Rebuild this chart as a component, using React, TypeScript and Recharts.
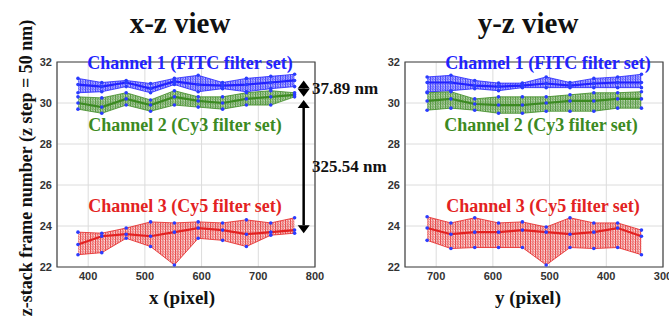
import React from "react";
import { ComposedChart, Area, Line, XAxis, YAxis, CartesianGrid, ReferenceArea, ReferenceLine } from "recharts";

// pixel positions of the sampled columns
const XZ_POS = [382, 424, 467, 510, 552, 594, 637, 679, 722, 764];
const YZ_POS = [716, 674, 632, 590, 548, 506, 464, 422, 380, 338];

// x-z view
const XZ_C1_TOP = [31.2, 31.0, 31.1, 30.95, 31.2, 31.35, 31.0, 31.2, 31.3, 31.4];
const XZ_C1_MID = [30.9, 30.8, 31.0, 30.7, 31.05, 30.9, 30.85, 30.9, 31.0, 31.1];
const XZ_C1_BOT = [30.5, 30.55, 30.8, 30.5, 30.9, 30.55, 30.7, 30.55, 30.7, 30.8];
const XZ_C2_TOP = [30.3, 30.25, 30.5, 30.15, 30.6, 30.3, 30.3, 30.5, 30.6, 30.5];
const XZ_C2_MID = [30.0, 29.8, 30.2, 29.9, 30.3, 30.1, 30.0, 30.2, 30.3, 30.4];
const XZ_C2_BOT = [29.7, 29.5, 29.9, 29.6, 29.9, 29.8, 29.7, 29.9, 29.9, 30.3];
const XZ_C3_TOP = [23.7, 23.65, 23.9, 24.2, 24.15, 24.2, 24.15, 24.3, 24.15, 24.4];
const XZ_C3_MID = [23.1, 23.5, 23.6, 23.5, 23.7, 23.9, 23.8, 23.6, 23.7, 23.8];
const XZ_C3_BOT = [22.6, 22.7, 23.4, 23.0, 22.1, 23.4, 23.3, 23.0, 23.55, 23.65];

// y-z view
const YZ_C1_TOP = [31.27, 31.35, 31.1, 30.97, 30.97, 31.27, 31.0, 31.2, 31.27, 31.4];
const YZ_C1_MID = [31.0, 31.0, 30.85, 30.8, 30.85, 30.95, 30.85, 30.95, 31.0, 31.0];
const YZ_C1_BOT = [30.54, 30.6, 30.7, 30.6, 30.75, 30.75, 30.75, 30.75, 30.75, 30.75];
const YZ_C2_TOP = [30.5, 30.55, 30.2, 30.3, 30.3, 30.3, 30.4, 30.5, 30.5, 30.55];
const YZ_C2_MID = [30.1, 30.2, 29.95, 29.9, 29.9, 30.0, 30.1, 30.1, 30.2, 30.2];
const YZ_C2_BOT = [29.65, 29.75, 29.65, 29.5, 29.5, 29.6, 29.6, 29.6, 29.75, 29.75];
const YZ_C3_TOP = [24.45, 24.15, 24.4, 24.15, 24.2, 23.95, 24.4, 24.15, 24.15, 23.8];
const YZ_C3_MID = [23.9, 23.6, 23.7, 23.7, 23.8, 23.7, 23.6, 23.7, 23.9, 23.5];
const YZ_C3_BOT = [23.3, 22.9, 22.95, 22.95, 22.95, 22.1, 22.95, 22.9, 22.95, 22.6];

const Y_TICKS = [22, 24, 26, 28, 30, 32];
const XZ_TICKS = [400, 500, 600, 700, 800];
const YZ_TICKS = [300, 400, 500, 600, 700];

// measured separations (frames) for the annotation arrows
const GAP_12 = [31.1, 30.3];
const GAP_23 = [30.15, 23.65];

const BLUE = "#2222ff";
const GREEN = "#3c8a22";
const RED = "#e32222";
const DOT = "#2a3cff";
const SERIF = "'Liberation Serif', 'Times New Roman', serif";

function buildRows(pos: number[], ch: number[][]) {
  return pos.map((p, i) => ({
    p,
    c1: [ch[2][i], ch[0][i]],
    c1t: ch[0][i], c1m: ch[1][i], c1b: ch[2][i],
    c2: [ch[5][i], ch[3][i]],
    c2t: ch[3][i], c2m: ch[4][i], c2b: ch[5][i],
    c3: [ch[8][i], ch[6][i]],
    c3t: ch[6][i], c3m: ch[7][i], c3b: ch[8][i],
  }));
}

const xzRows = buildRows(XZ_POS, [XZ_C1_TOP, XZ_C1_MID, XZ_C1_BOT, XZ_C2_TOP, XZ_C2_MID, XZ_C2_BOT, XZ_C3_TOP, XZ_C3_MID, XZ_C3_BOT]);
const yzRows = buildRows(YZ_POS, [YZ_C1_TOP, YZ_C1_MID, YZ_C1_BOT, YZ_C2_TOP, YZ_C2_MID, YZ_C2_BOT, YZ_C3_TOP, YZ_C3_MID, YZ_C3_BOT]);

function Mesh({ id, color, base }: { id: string; color: string; base: number }) {
  return (
    <pattern id={id} width="2.5" height="2.5" patternUnits="userSpaceOnUse">
      <rect width="2.5" height="2.5" fill={color} fillOpacity={base} />
      <path d="M0.5 0 L0.5 2.5" stroke={color} strokeWidth={0.7} />
      <path d="M0 0 L2.5 2.5" stroke={color} strokeWidth={0.45} />
    </pattern>
  );
}

function DoubleArrow(props: any) {
  const { x1, y1, x2, y2 } = props;
  if (x1 == null || y1 == null) return null;
  const x = (x1 + x2) / 2;
  const top = Math.min(y1, y2);
  const bot = Math.max(y1, y2);
  const h = 8;
  const w = 6;
  return (
    <g>
      <line x1={x} y1={top + h} x2={x} y2={bot - h} stroke="#000" strokeWidth={2.5} />
      <polygon points={`${x},${top} ${x - w},${top + h} ${x + w},${top + h}`} fill="#000" />
      <polygon points={`${x},${bot} ${x - w},${bot - h} ${x + w},${bot - h}`} fill="#000" />
    </g>
  );
}

const tickStyle = { fill: "#333", fontSize: 11, fontWeight: 700, fontFamily: "'Liberation Sans', Arial, sans-serif" };

function Panel({ rows, domain, ticks, reversed, yAxisWidth, marginRight, prefix, arrows }: any) {
  const dot = { r: 1.8, fill: DOT, stroke: "none" };
  const channels = [
    { k: "c1", color: BLUE, pat: "blue" },
    { k: "c2", color: GREEN, pat: "green" },
    { k: "c3", color: RED, pat: "red" },
  ];
  return (
    <ComposedChart
      width={yAxisWidth + 258 + marginRight}
      height={323}
      data={rows}
      margin={{ top: 62, right: marginRight, left: 0, bottom: 36 }}
    >
      <defs>
        <Mesh id={`${prefix}-blue`} color={BLUE} base={0.3} />
        <Mesh id={`${prefix}-green`} color={GREEN} base={0.35} />
        <Mesh id={`${prefix}-red`} color={RED} base={0.15} />
      </defs>
      <CartesianGrid stroke="#dcdcdc" strokeWidth={1} />
      <XAxis
        dataKey="p"
        type="number"
        domain={domain}
        ticks={ticks}
        reversed={reversed}
        interval={0}
        allowDataOverflow
        height={20}
        tickSize={0}
        tickMargin={5}
        axisLine={false}
        tick={tickStyle}
      />
      <YAxis
        type="number"
        domain={[22, 32]}
        ticks={Y_TICKS}
        interval={0}
        width={yAxisWidth}
        tickSize={0}
        tickMargin={5}
        axisLine={false}
        tick={tickStyle}
      />
      <ReferenceArea x1={domain[0]} x2={domain[1]} y1={22} y2={32} fill="none" stroke="#444" strokeWidth={1.2} ifOverflow="visible" />
      {channels.map((c) => (
        <React.Fragment key={c.k}>
          <Area
            dataKey={c.k}
            type="linear"
            stroke={c.color}
            strokeWidth={0.8}
            fill={`url(#${prefix}-${c.pat})`}
            fillOpacity={1}
            isAnimationActive={false}
          />
          <Line dataKey={`${c.k}m`} type="linear" stroke={c.color} strokeWidth={2.2} dot={dot} isAnimationActive={false} />
          <Line dataKey={`${c.k}t`} type="linear" stroke="none" dot={dot} isAnimationActive={false} />
          <Line dataKey={`${c.k}b`} type="linear" stroke="none" dot={dot} isAnimationActive={false} />
        </React.Fragment>
      ))}
      {arrows &&
        [GAP_12, GAP_23].map((g, i) => (
          <ReferenceLine
            key={i}
            segment={[{ x: 780, y: g[0] }, { x: 780, y: g[1] }]}
            ifOverflow="visible"
            shape={(p: any) => <DoubleArrow {...p} />}
          />
        ))}
    </ComposedChart>
  );
}

export default function App() {
  const t = (s: any) => ({ fontFamily: SERIF, fontWeight: 700, ...s });
  return (
    <div style={{ position: "absolute", left: 0, top: 0, width: 669, height: 323, background: "#fff", overflow: "hidden" }}>
      <div style={{ position: "absolute", left: 0, top: 0 }}>
        <Panel rows={xzRows} domain={[345, 800]} ticks={XZ_TICKS} reversed={false} yAxisWidth={57} marginRight={20} prefix="xz" arrows />
      </div>
      <div style={{ position: "absolute", left: 345, top: 0 }}>
        <Panel rows={yzRows} domain={[300, 755]} ticks={YZ_TICKS} reversed yAxisWidth={60} marginRight={6} prefix="yz" arrows={false} />
      </div>
      <svg width={669} height={323} style={{ position: "absolute", left: 0, top: 0, pointerEvents: "none" }}>
        <text x={180} y={33} textAnchor="middle" style={t({ fontSize: 29 })} fill="#111">x-z view</text>
        <text x={528} y={33} textAnchor="middle" style={t({ fontSize: 29 })} fill="#111">y-z view</text>
        <text x={32} y={168} textAnchor="middle" transform="rotate(-90, 32, 168)" style={t({ fontSize: 18 })} fill="#111">
          z-stack frame number (z step = 50 nm)
        </text>
        <text x={182} y={304} textAnchor="middle" style={t({ fontSize: 19 })} fill="#111">x (pixel)</text>
        <text x={528} y={304} textAnchor="middle" style={t({ fontSize: 19 })} fill="#111">y (pixel)</text>

        <text x={190} y={69} textAnchor="middle" style={t({ fontSize: 18 })} fill={BLUE}>Channel 1 (FITC filter set)</text>
        <text x={185} y={131} textAnchor="middle" style={t({ fontSize: 18 })} fill={GREEN}>Channel 2 (Cy3 filter set)</text>
        <text x={185} y={212} textAnchor="middle" style={t({ fontSize: 18 })} fill={RED}>Channel 3 (Cy5 filter set)</text>
        <text x={548} y={69} textAnchor="middle" style={t({ fontSize: 18 })} fill={BLUE}>Channel 1 (FITC filter set)</text>
        <text x={541} y={131} textAnchor="middle" style={t({ fontSize: 18 })} fill={GREEN}>Channel 2 (Cy3 filter set)</text>
        <text x={543} y={212} textAnchor="middle" style={t({ fontSize: 18 })} fill={RED}>Channel 3 (Cy5 filter set)</text>

        <text x={312} y={94} style={t({ fontSize: 17 })} fill="#111">37.89 nm</text>
        <text x={312} y={172} style={t({ fontSize: 17 })} fill="#111">325.54 nm</text>
      </svg>
    </div>
  );
}
